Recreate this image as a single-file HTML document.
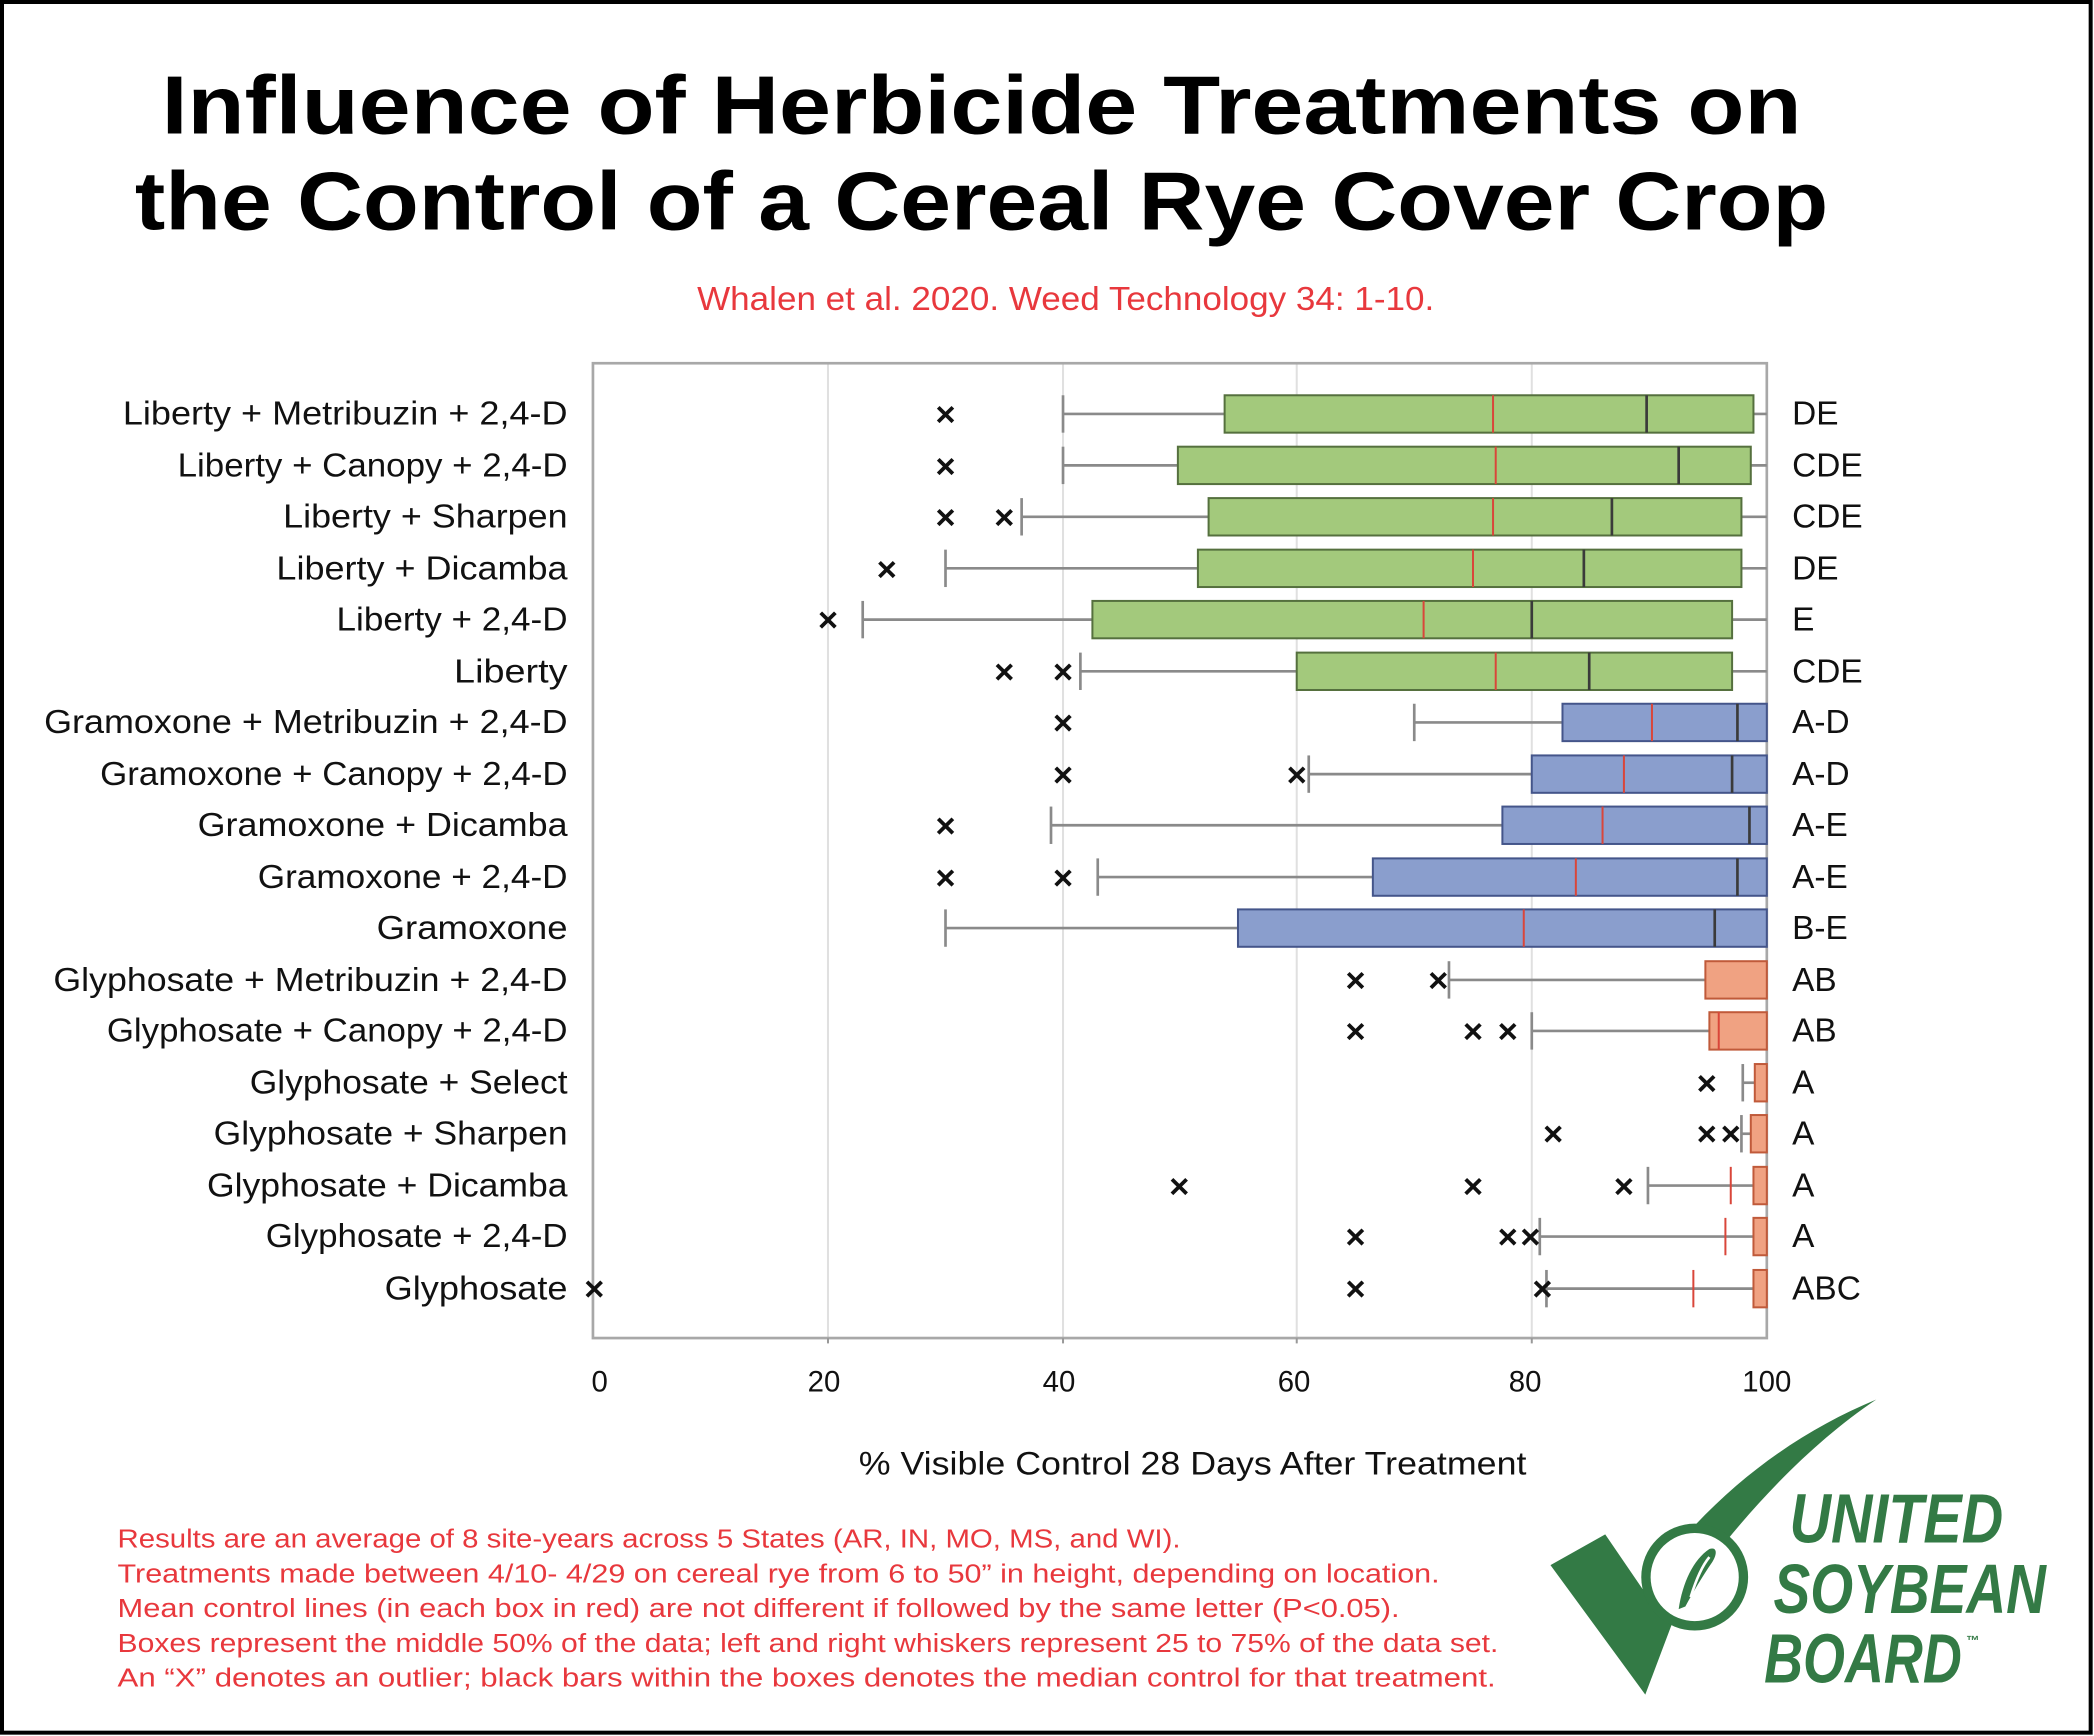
<!DOCTYPE html>
<html><head><meta charset="utf-8"><style>
html,body{margin:0;padding:0;background:#fff;}
svg{display:block;}
text{font-family:"Liberation Sans",sans-serif;}
</style></head><body>
<svg width="2094" height="1736" viewBox="0 0 1568 1300" preserveAspectRatio="none" xmlns="http://www.w3.org/2000/svg">
<rect x="0" y="0" width="1568" height="1300" fill="#fff"/>
<rect x="1.5" y="1.5" width="1564" height="1296" fill="none" stroke="#000" stroke-width="3"/>
<text x="735" y="100" text-anchor="middle" font-weight="bold" font-size="62" textLength="1228" lengthAdjust="spacingAndGlyphs">Influence of Herbicide Treatments on</text>
<text x="735" y="172" text-anchor="middle" font-weight="bold" font-size="62" textLength="1268" lengthAdjust="spacingAndGlyphs">the Control of a Cereal Rye Cover Crop</text>
<text x="798" y="232" text-anchor="middle" font-size="25" fill="#e8383d" textLength="552" lengthAdjust="spacingAndGlyphs">Whalen et al. 2020. Weed Technology 34: 1-10.</text>
<g stroke="#e0e0e0" stroke-width="1.5"><line x1="620" y1="272" x2="620" y2="1002"/><line x1="796" y1="272" x2="796" y2="1002"/><line x1="971" y1="272" x2="971" y2="1002"/><line x1="1147" y1="272" x2="1147" y2="1002"/></g>
<rect x="444" y="272" width="879" height="730" fill="none" stroke="#a8a8a8" stroke-width="2"/>
<g stroke="#999" stroke-width="1.5"><line x1="620" y1="1002" x2="620" y2="1006"/><line x1="796" y1="1002" x2="796" y2="1006"/><line x1="971" y1="1002" x2="971" y2="1006"/><line x1="1147" y1="1002" x2="1147" y2="1006"/></g>
<g font-size="22" text-anchor="middle" fill="#111"><text x="449" y="1042">0</text><text x="617" y="1042">20</text><text x="793" y="1042">40</text><text x="969" y="1042">60</text><text x="1142" y="1042">80</text><text x="1323" y="1042">100</text></g>
<text x="893" y="1104" text-anchor="middle" font-size="24" fill="#111" textLength="500" lengthAdjust="spacingAndGlyphs">% Visible Control 28 Days After Treatment</text>
<g font-size="25" fill="#111" lengthAdjust="spacingAndGlyphs">
<text x="92" y="318" textLength="333" lengthAdjust="spacingAndGlyphs">Liberty + Metribuzin + 2,4-D</text>
<text x="133" y="357" textLength="292" lengthAdjust="spacingAndGlyphs">Liberty + Canopy + 2,4-D</text>
<text x="212" y="395" textLength="213" lengthAdjust="spacingAndGlyphs">Liberty + Sharpen</text>
<text x="207" y="434" textLength="218" lengthAdjust="spacingAndGlyphs">Liberty + Dicamba</text>
<text x="252" y="472" textLength="173" lengthAdjust="spacingAndGlyphs">Liberty + 2,4-D</text>
<text x="340" y="511" textLength="85" lengthAdjust="spacingAndGlyphs">Liberty</text>
<text x="33" y="549" textLength="392" lengthAdjust="spacingAndGlyphs">Gramoxone + Metribuzin + 2,4-D</text>
<text x="75" y="588" textLength="350" lengthAdjust="spacingAndGlyphs">Gramoxone + Canopy + 2,4-D</text>
<text x="148" y="626" textLength="277" lengthAdjust="spacingAndGlyphs">Gramoxone + Dicamba</text>
<text x="193" y="665" textLength="232" lengthAdjust="spacingAndGlyphs">Gramoxone + 2,4-D</text>
<text x="282" y="703" textLength="143" lengthAdjust="spacingAndGlyphs">Gramoxone</text>
<text x="40" y="742" textLength="385" lengthAdjust="spacingAndGlyphs">Glyphosate + Metribuzin + 2,4-D</text>
<text x="80" y="780" textLength="345" lengthAdjust="spacingAndGlyphs">Glyphosate + Canopy + 2,4-D</text>
<text x="187" y="819" textLength="238" lengthAdjust="spacingAndGlyphs">Glyphosate + Select</text>
<text x="160" y="857" textLength="265" lengthAdjust="spacingAndGlyphs">Glyphosate + Sharpen</text>
<text x="155" y="896" textLength="270" lengthAdjust="spacingAndGlyphs">Glyphosate + Dicamba</text>
<text x="199" y="934" textLength="226" lengthAdjust="spacingAndGlyphs">Glyphosate + 2,4-D</text>
<text x="288" y="973" textLength="137" lengthAdjust="spacingAndGlyphs">Glyphosate</text>
</g>
<g font-size="25" fill="#111">
<text x="1342" y="318">DE</text><text x="1342" y="357">CDE</text><text x="1342" y="395">CDE</text><text x="1342" y="434">DE</text><text x="1342" y="472">E</text><text x="1342" y="511">CDE</text><text x="1342" y="549">A-D</text><text x="1342" y="588">A-D</text><text x="1342" y="626">A-E</text><text x="1342" y="665">A-E</text><text x="1342" y="703">B-E</text><text x="1342" y="742">AB</text><text x="1342" y="780">AB</text><text x="1342" y="819">A</text><text x="1342" y="857">A</text><text x="1342" y="896">A</text><text x="1342" y="934">A</text><text x="1342" y="973">ABC</text>
</g>
<g stroke="#8a8a8a" stroke-width="2">
<line x1="796" y1="310" x2="1323" y2="310"/><line x1="796" y1="296" x2="796" y2="324"/>
<line x1="796" y1="348.5" x2="1323" y2="348.5"/><line x1="796" y1="334.5" x2="796" y2="362.5"/>
<line x1="765" y1="387" x2="1323" y2="387"/><line x1="765" y1="373" x2="765" y2="401"/>
<line x1="708" y1="425.6" x2="1323" y2="425.6"/><line x1="708" y1="411.6" x2="708" y2="439.6"/>
<line x1="646" y1="464" x2="1323" y2="464"/><line x1="646" y1="450" x2="646" y2="478"/>
<line x1="809" y1="502.7" x2="1323" y2="502.7"/><line x1="809" y1="488.7" x2="809" y2="516.7"/>
<line x1="1059" y1="541" x2="1170" y2="541"/><line x1="1059" y1="527" x2="1059" y2="555"/>
<line x1="980" y1="579.7" x2="1147" y2="579.7"/><line x1="980" y1="565.7" x2="980" y2="593.7"/>
<line x1="787" y1="618" x2="1125" y2="618"/><line x1="787" y1="604" x2="787" y2="632"/>
<line x1="822" y1="656.8" x2="1028" y2="656.8"/><line x1="822" y1="642.8" x2="822" y2="670.8"/>
<line x1="708" y1="695" x2="927" y2="695"/><line x1="708" y1="681" x2="708" y2="709"/>
<line x1="1085" y1="733.8" x2="1277" y2="733.8"/><line x1="1085" y1="719.8" x2="1085" y2="747.8"/>
<line x1="1147" y1="772" x2="1280" y2="772"/><line x1="1147" y1="758" x2="1147" y2="786"/>
<line x1="1305" y1="810.8" x2="1314" y2="810.8"/><line x1="1305" y1="796.8" x2="1305" y2="824.8"/>
<line x1="1304" y1="849" x2="1311" y2="849"/><line x1="1304" y1="835" x2="1304" y2="863"/>
<line x1="1234" y1="887.8" x2="1313" y2="887.8"/><line x1="1234" y1="873.8" x2="1234" y2="901.8"/>
<line x1="1153" y1="926" x2="1313" y2="926"/><line x1="1153" y1="912" x2="1153" y2="940"/>
<line x1="1158" y1="965" x2="1313" y2="965"/><line x1="1158" y1="951" x2="1158" y2="979"/>
</g>
<g fill="#a3c97c" stroke="#55703e" stroke-width="1.5">
<rect x="917" y="296" width="396" height="28"/><rect x="882" y="334.5" width="429" height="28"/><rect x="905" y="373" width="399" height="28"/><rect x="897" y="411.6" width="407" height="28"/><rect x="818" y="450" width="479" height="28"/><rect x="971" y="488.7" width="326" height="28"/>
</g>
<g fill="#8a9ecd" stroke="#44558a" stroke-width="1.5">
<rect x="1170" y="527" width="153" height="28"/><rect x="1147" y="565.7" width="176" height="28"/><rect x="1125" y="604" width="198" height="28"/><rect x="1028" y="642.8" width="295" height="28"/><rect x="927" y="681" width="396" height="28"/>
</g>
<g fill="#f0a282" stroke="#c05a3a" stroke-width="1.5">
<rect x="1277" y="719.8" width="46" height="28"/><rect x="1280" y="758" width="43" height="28"/><rect x="1314" y="796.8" width="9" height="28"/><rect x="1311" y="835" width="12" height="28"/><rect x="1313" y="873.8" width="10" height="28"/><rect x="1313" y="912" width="10" height="28"/><rect x="1313" y="951" width="10" height="28"/>
</g>
<g stroke="#3a3a3a" stroke-width="2">
<line x1="1233" y1="296" x2="1233" y2="324"/><line x1="1257" y1="334.5" x2="1257" y2="362.5"/><line x1="1207" y1="373" x2="1207" y2="401"/><line x1="1186" y1="411.6" x2="1186" y2="439.6"/><line x1="1147" y1="450" x2="1147" y2="478"/><line x1="1190" y1="488.7" x2="1190" y2="516.7"/>
<line x1="1301" y1="527" x2="1301" y2="555"/><line x1="1297" y1="565.7" x2="1297" y2="593.7"/><line x1="1310" y1="604" x2="1310" y2="632"/><line x1="1301" y1="642.8" x2="1301" y2="670.8"/><line x1="1284" y1="681" x2="1284" y2="709"/>
</g>
<g stroke="#d9463a" stroke-width="1.5">
<line x1="1118" y1="296" x2="1118" y2="324"/><line x1="1120" y1="334.5" x2="1120" y2="362.5"/><line x1="1118" y1="373" x2="1118" y2="401"/><line x1="1103" y1="411.6" x2="1103" y2="439.6"/><line x1="1066" y1="450" x2="1066" y2="478"/><line x1="1120" y1="488.7" x2="1120" y2="516.7"/>
<line x1="1237" y1="527" x2="1237" y2="555"/><line x1="1216" y1="565.7" x2="1216" y2="593.7"/><line x1="1200" y1="604" x2="1200" y2="632"/><line x1="1180" y1="642.8" x2="1180" y2="670.8"/><line x1="1141" y1="681" x2="1141" y2="709"/>
<line x1="1287" y1="758" x2="1287" y2="786"/>
<line x1="1296" y1="873.8" x2="1296" y2="901.8"/><line x1="1292" y1="912" x2="1292" y2="940"/><line x1="1268" y1="951" x2="1268" y2="979"/>
</g>
<g font-size="26" font-weight="bold" text-anchor="middle" fill="#111">
<text x="708" y="319">×</text>
<text x="708" y="358">×</text>
<text x="708" y="396">×</text><text x="752" y="396">×</text>
<text x="664" y="435">×</text>
<text x="620" y="473">×</text>
<text x="752" y="512">×</text><text x="796" y="512">×</text>
<text x="796" y="550">×</text>
<text x="796" y="589">×</text><text x="971" y="589">×</text>
<text x="708" y="627">×</text>
<text x="708" y="666">×</text><text x="796" y="666">×</text>
<text x="1015" y="743">×</text><text x="1077" y="743">×</text>
<text x="1015" y="781">×</text><text x="1103" y="781">×</text><text x="1129" y="781">×</text>
<text x="1278" y="820">×</text>
<text x="1163" y="858">×</text><text x="1278" y="858">×</text><text x="1296" y="858">×</text>
<text x="883" y="897">×</text><text x="1103" y="897">×</text><text x="1216" y="897">×</text>
<text x="1015" y="935">×</text><text x="1129" y="935">×</text><text x="1146" y="935">×</text>
<text x="445" y="974">×</text><text x="1015" y="974">×</text><text x="1155" y="974">×</text>
</g>
<g font-size="19.5" fill="#e8383d">
<text x="88" y="1159" textLength="796" lengthAdjust="spacingAndGlyphs">Results are an average of 8 site-years across 5 States (AR, IN, MO, MS, and WI).</text>
<text x="88" y="1185" textLength="990" lengthAdjust="spacingAndGlyphs">Treatments made between 4/10- 4/29 on cereal rye from 6 to 50” in height, depending on location.</text>
<text x="88" y="1211" textLength="960" lengthAdjust="spacingAndGlyphs">Mean control lines (in each box in red) are not different if followed by the same letter (P&lt;0.05).</text>
<text x="88" y="1237" textLength="1034" lengthAdjust="spacingAndGlyphs">Boxes represent the middle 50% of the data; left and right whiskers represent 25 to 75% of the data set.</text>
<text x="88" y="1263" textLength="1032" lengthAdjust="spacingAndGlyphs">An “X” denotes an outlier; black bars within the boxes denotes the median control for that treatment.</text>
</g>
<g fill="#337a45">
<path d="M1161,1172 L1202,1149 L1230,1190 C1280,1120 1340,1075 1405,1048 C1350,1085 1300,1140 1258,1200 L1232,1269 Z"/>
<circle cx="1269" cy="1181" r="40" fill="#337a45"/>
<circle cx="1269" cy="1181" r="33" fill="#fff"/>
<path d="M1257,1205 C1260,1185 1268,1168 1280,1160 C1286,1158 1286,1164 1282,1170 C1275,1180 1268,1192 1262,1203 Z" fill="#337a45"/>
<path d="M1266,1196 C1270,1183 1275,1172 1280,1166" stroke="#fff" stroke-width="2" fill="none"/>
<g font-weight="bold" font-style="italic">
<text x="1340" y="1155" font-size="52" textLength="160" lengthAdjust="spacingAndGlyphs">UNITED</text>
<text x="1328" y="1208" font-size="52" textLength="204" lengthAdjust="spacingAndGlyphs">SOYBEAN</text>
<text x="1321" y="1260" font-size="52" textLength="148" lengthAdjust="spacingAndGlyphs">BOARD</text>
<text x="1472" y="1232" font-size="10">™</text>
</g>
</g>
</svg>
</body></html>
